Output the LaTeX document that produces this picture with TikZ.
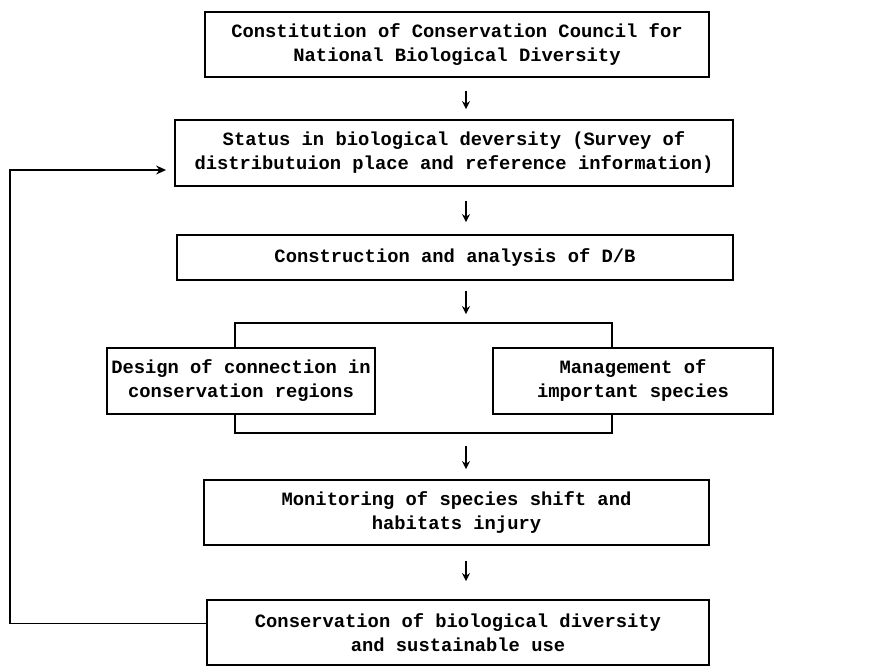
\documentclass[tikz,border=0pt]{standalone}
\usepackage{fontspec}
\setmonofont{Liberation Mono}
\usetikzlibrary{arrows.meta}

\begin{document}
\begin{tikzpicture}[x=0.5pt,y=-0.5pt,
  box node/.style={rectangle,draw,fill=white,line width=0.9pt,align=center,inner sep=0pt,
    font=\ttfamily\bfseries\fontsize{9.4}{12}\selectfont},
  flow/.style={-{Stealth[length=4pt,width=4pt]},line width=0.7pt},
  back/.style={-{Stealth[length=5pt,width=4.5pt]},line width=0.7pt}]

  \useasboundingbox (0,0) rectangle (873,668);

  \coordinate (ax) at (466,0);
  \coordinate (bx) at (10,0);

  \node[box node,minimum width=252pt,minimum height=32.5pt] (1) at (457,44.5)
    {Constitution of Conservation Council for\\National Biological Diversity};
  \node[box node,minimum width=279pt,minimum height=33pt] (2) at (454,153)
    {Status in biological deversity (Survey of\\distributuion place and reference information)};
  \node[box node,minimum width=278pt,minimum height=22.5pt] (3) at (455,257.5)
    {Construction and analysis of D/B};
  \node[box node,minimum width=188.5pt,minimum height=55pt] (4) at (423.5,378) {};
  \node[box node,minimum width=134pt,minimum height=33pt] (5) at (241,381)
    {Design of connection in\\conservation regions};
  \node[box node,minimum width=140pt,minimum height=33pt] (6) at (633,381)
    {Management of\\important species};
  \node[box node,minimum width=252.5pt,minimum height=32.5pt] (7) at (456.5,512.5)
    {Monitoring of species shift and\\habitats injury};
  \node[box node,minimum width=251pt,minimum height=32.5pt] (8) at (458,632.5)
    {Conservation of biological diversity\\and sustainable use};

  \draw[flow,shorten <=6.5pt,shorten >=5pt] (1.south -| ax) -- (2.north -| ax);
  \draw[flow,shorten <=7pt,shorten >=6pt] (2.south -| ax) -- (3.north -| ax);
  \draw[flow,shorten <=5pt,shorten >=4pt] (3.south -| ax) -- (4.north -| ax);
  \draw[flow,shorten <=6pt,shorten >=5pt] (4.south -| ax) -- (7.north -| ax);
  \draw[flow,shorten <=7.5pt,shorten >=9pt] (7.south -| ax) -- (8.north -| ax);

  % feedback loop
  \coordinate (in) at ([yshift=-8.5pt]2.west);
  \draw[back,shorten >=4pt] ([yshift=4.5pt]8.west) -| (bx |- in) -- (in);

\end{tikzpicture}
\end{document}
